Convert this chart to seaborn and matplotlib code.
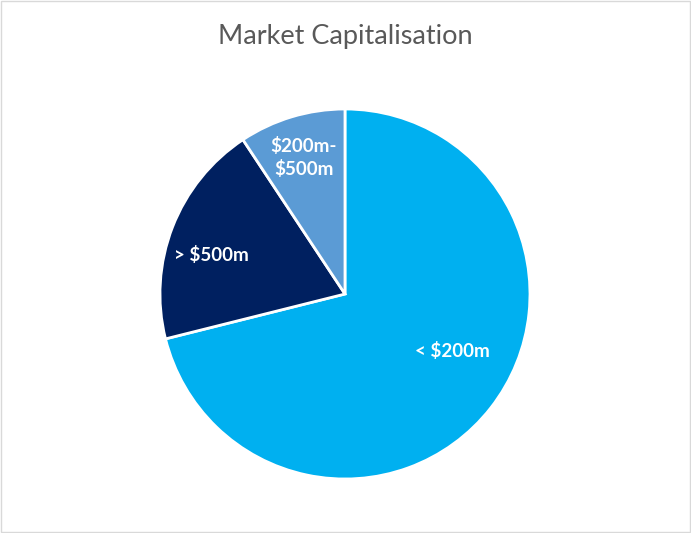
import numpy as np
import matplotlib.pyplot as plt
import seaborn as sns
from matplotlib.patches import Rectangle

# Данные
labels = ['< $200m', '> $500m', '$200m-\n$500m']
shares = [71.1, 19.6, 9.3]
colors = ['#00B0F0', '#002060', '#5B9BD5']
label_dist = [0.66, 0.75, 0.77]
label_shift = [10, 5, 0]  # поворот подписи (градусы, против часовой)

sns.set_theme(style='white')
plt.rcParams['font.family'] = ['Lato', 'DejaVu Sans']

fig = plt.figure(figsize=(6.91, 5.33), dpi=100)
fig.patches.append(Rectangle((0.001, 0.001), 0.998, 0.998, transform=fig.transFigure,
                             fill=False, edgecolor='#D9D9D9', linewidth=1))

ax = fig.add_axes([0.2315, 0.1013, 0.5355, 0.6942])
wedges, texts = ax.pie(shares, labels=labels, colors=colors, startangle=90,
                       counterclock=False, labeldistance=1.0,
                       wedgeprops=dict(edgecolor='white', linewidth=2),
                       textprops=dict(color='white', fontsize=13.5, fontweight='bold',
                                      linespacing=1.35))
for w, t, d, s in zip(wedges, texts, label_dist, label_shift):
    ang = np.deg2rad((w.theta1 + w.theta2) / 2 + s)
    t.set_position((d * np.cos(ang), d * np.sin(ang)))
    t.set_ha('center')
    t.set_va('center')
    t.set_multialignment('center')
ax.set_xlim(-1, 1)
ax.set_ylim(-1, 1)
ax.set_aspect('equal')

fig.text(0.5, 0.932, 'Market Capitalisation', ha='center', va='center',
         fontsize=19.5, color='#595959')

fig.savefig('out.png', dpi=100)
